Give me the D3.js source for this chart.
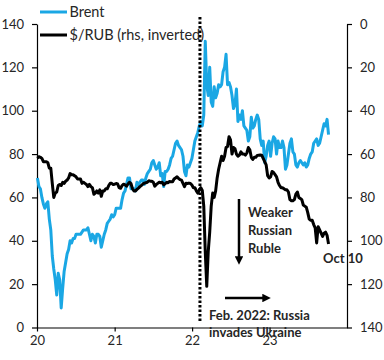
<!DOCTYPE html>
<html>
<head>
<meta charset="utf-8">
<script src="https://cdn.jsdelivr.net/npm/d3@7"></script>
<style>
  body { margin: 0; background: #fff; }
  svg { display: block; font-family: Lato, "Open Sans", sans-serif; }
</style>
</head>
<body>
<svg width="384" height="360"></svg>
<script>
// weekly (Friday) observations, Jan 3 2020 .. Oct 6 2023
var dates = d3.timeFriday.range(new Date(2020, 0, 3), new Date(2023, 9, 7));

// Brent, $/bbl (left axis)
var brent = [
  // 2020
  69, 65, 64, 60, 57,  55, 57, 58, 50,  45, 33, 27, 22,  15, 25, 22, 9,
  18, 26, 30, 34, 36,  40, 39, 41, 41,  43, 43, 43, 43, 44,  45, 45, 45, 46,
  43, 40, 43, 42,  39, 43, 43, 42, 37,  40, 43, 45, 48,  49, 50, 52, 51,
  // 2021
  52, 55, 55, 55, 55,  59, 62, 63, 66,  69, 69, 64, 64,  64, 63, 67, 66, 67,
  68, 68, 66, 69,  71, 72, 73, 76,  77, 75, 73, 74, 76,  70, 71, 65, 72,
  72, 73, 75, 78,  79, 82, 85, 86, 84,  83, 82, 79, 72,  70, 75, 74, 76, 78,
  // 2022
  82, 86, 88, 90,  93, 95, 93, 98,  132, 112, 107, 120,  104, 102, 111, 106, 108,
  112, 111, 112, 118,  120, 126, 112, 113,  111, 107, 101, 103, 110,  95, 98, 96, 100,
  93, 92, 91, 86, 88,  97, 92, 93, 96,  98, 96, 87, 84,  86, 76, 79, 84, 86,
  // 2023
  79, 85, 88, 87,  80, 86, 83, 83,  86, 83, 73, 75, 80,  85, 87, 81, 80,
  75, 74, 76, 77,  76, 75, 76, 74, 75,  78, 80, 81, 85,  86, 87, 84, 85,
  88, 91, 94, 93, 96,  89
];

// USD/RUB (right axis, inverted)
var usdrub = [
  // 2020
  61.9, 61.2, 61.5, 62.0, 63.5,  63.5, 63.5, 64.0, 66.5,  66.5, 73.5, 80.0, 78.0,
  77.5, 74.5, 74.0, 74.5,  73.0, 73.5, 72.5, 72.0, 71.0,  69.0, 69.5, 69.5, 70.0,
  70.5, 71.5, 71.5, 71.5, 73.5,  73.0, 73.5, 74.0, 75.0,  74.0, 75.0, 75.5, 78.5,
  78.0, 77.0, 78.0, 76.5, 79.5,  77.0, 77.0, 76.0, 76.0,  74.5, 73.5, 73.5, 74.0,
  // 2021
  73.9, 73.6, 73.8, 75.5, 75.8,  74.5, 73.9, 74.2, 74.8,  73.8, 73.0, 73.6, 76.0,
  77.0, 77.0, 76.3, 75.7, 75.0,  74.5, 73.8, 73.4, 73.2,  73.0, 72.3, 72.5, 72.5,
  73.0, 74.8, 74.0, 73.5, 73.0,  73.2, 73.0, 74.2, 73.6,  73.0, 73.2, 72.6, 72.8,
  72.8, 71.5, 71.0, 70.5, 71.2,  71.8, 72.0, 73.5, 75.0,  73.5, 73.6, 73.4, 73.6, 74.3,
  // 2022
  75.5, 75.5, 77.0, 78.0,  76.5, 75.5, 76.8, 84.0,  105.0, 121.0, 105.0, 96.0,
  84.0, 78.0, 80.0, 77.0, 71.0,  67.0, 64.0, 61.0, 63.0,  61.0, 57.0, 56.5, 52.0,
  53.5, 60.0, 57.0, 57.5, 60.0,  61.0, 60.5, 59.0, 60.0,  60.0, 60.5, 59.5, 57.0, 58.0,
  61.5, 62.5, 61.5, 61.5,  60.6, 60.5, 60.4, 60.5,  62.0, 63.5, 65.0, 70.0, 71.0,
  // 2023
  70.5, 68.0, 68.5, 69.5,  70.5, 73.0, 74.5, 75.5,  75.5, 76.0, 76.5, 76.5, 77.5,
  81.0, 81.5, 81.5, 81.0,  78.5, 77.5, 80.0, 80.5,  81.0, 83.5, 84.0, 84.5, 87.0,
  90.0, 90.5, 90.5, 92.5,  94.0, 101.0, 93.5, 95.0,  96.5, 98.0, 96.5, 96.0, 97.5,
  101.5
];

var yearTicks = [new Date(2020, 0, 1), new Date(2021, 0, 1), new Date(2022, 0, 1), new Date(2023, 0, 1)];
var valueTicks = [0, 20, 40, 60, 80, 100, 120, 140];
var invasionDate = new Date(2022, 1, 7);

var blue = "#1aa7e4", ink = "#262626";

var svg = d3.select("svg");

// scales
var x = d3.scaleTime()
  .domain([new Date(2020, 0, 1), new Date(2024, 0, 1)])
  .range([37, 347]);
var yLeft = d3.scaleLinear().domain([0, 140]).range([327.5, 24]);
var yRight = d3.scaleLinear().domain([0, 140]).range([24, 327.5]);

// axes
function styleAxis(g) {
  g.attr("font-family", null).attr("font-size", null);
  g.selectAll("path, line").attr("stroke", "#000").attr("stroke-width", 1.2);
  g.selectAll("text").attr("fill", ink).style("font-size", "13px");
}

svg.append("g")
  .attr("transform", "translate(37,0)")
  .call(d3.axisLeft(yLeft).tickValues(valueTicks).tickSize(5).tickSizeOuter(0).tickPadding(8))
  .call(styleAxis);

svg.append("g")
  .attr("transform", "translate(347,0)")
  .call(d3.axisRight(yRight).tickValues(valueTicks).tickSize(5).tickSizeOuter(0).tickPadding(8))
  .call(styleAxis);

svg.append("g")
  .attr("transform", "translate(0,327.5)")
  .call(d3.axisBottom(x).tickValues(yearTicks).tickFormat(d3.timeFormat("%y")).tickSize(4).tickSizeOuter(0).tickPadding(4))
  .call(styleAxis);

// lines
var n = Math.min(dates.length, brent.length, usdrub.length);
var idx = d3.range(n);

var brentLine = d3.line()
  .x(function (i) { return x(dates[i]); })
  .y(function (i) { return yLeft(brent[i]); });

var rubLine = d3.line()
  .x(function (i) { return x(dates[i]); })
  .y(function (i) { return yRight(usdrub[i]); });

svg.append("path")
  .attr("d", brentLine(idx))
  .attr("fill", "none")
  .attr("stroke", blue)
  .attr("stroke-width", 3)
  .attr("stroke-linejoin", "round");

svg.append("path")
  .attr("d", rubLine(idx))
  .attr("fill", "none")
  .attr("stroke", "#000")
  .attr("stroke-width", 3)
  .attr("stroke-linejoin", "round");

// invasion marker
svg.append("line")
  .attr("x1", x(invasionDate)).attr("x2", x(invasionDate))
  .attr("y1", 17).attr("y2", 321)
  .attr("stroke", "#000")
  .attr("stroke-width", 3)
  .attr("stroke-dasharray", "2.5,2");

// legend
var legend = [["Brent", blue, 12], ["$/RUB (rhs, inverted)", "#000", 35]];
legend.forEach(function (d) {
  svg.append("line")
    .attr("x1", 40).attr("x2", 67).attr("y1", d[2]).attr("y2", d[2])
    .attr("stroke", d[1]).attr("stroke-width", 3);
  svg.append("text")
    .attr("x", 69.5).attr("y", d[2]).attr("dy", "0.35em")
    .attr("fill", ink).style("font-size", "14.5px")
    .text(d[0]);
});

// arrows
svg.append("defs").append("marker")
  .attr("id", "head")
  .attr("viewBox", "0 0 10 10")
  .attr("refX", 2).attr("refY", 5)
  .attr("markerWidth", 3.4).attr("markerHeight", 3.4)
  .attr("orient", "auto")
  .append("path").attr("d", "M0,0 L10,5 L0,10 Z").attr("fill", "#000");

svg.append("line")
  .attr("x1", 239).attr("y1", 199).attr("x2", 239).attr("y2", 258)
  .attr("stroke", "#000").attr("stroke-width", 2.5)
  .attr("marker-end", "url(#head)");

svg.append("line")
  .attr("x1", 225).attr("y1", 298).attr("x2", 264).attr("y2", 298)
  .attr("stroke", "#000").attr("stroke-width", 2.5)
  .attr("marker-end", "url(#head)");

// annotations
var notes = [
  ["Weaker", 248, 217], ["Russian", 248, 235], ["Ruble", 248, 253],
  ["Oct 10", 323, 263],
  ["Feb. 2022: Russia", 209, 320], ["invades Ukraine", 209, 337]
];
notes.forEach(function (d) {
  svg.append("text")
    .attr("x", d[1]).attr("y", d[2])
    .attr("fill", ink)
    .style("font-size", "13px").style("font-weight", "bold")
    .text(d[0]);
});
</script>
</body>
</html>
